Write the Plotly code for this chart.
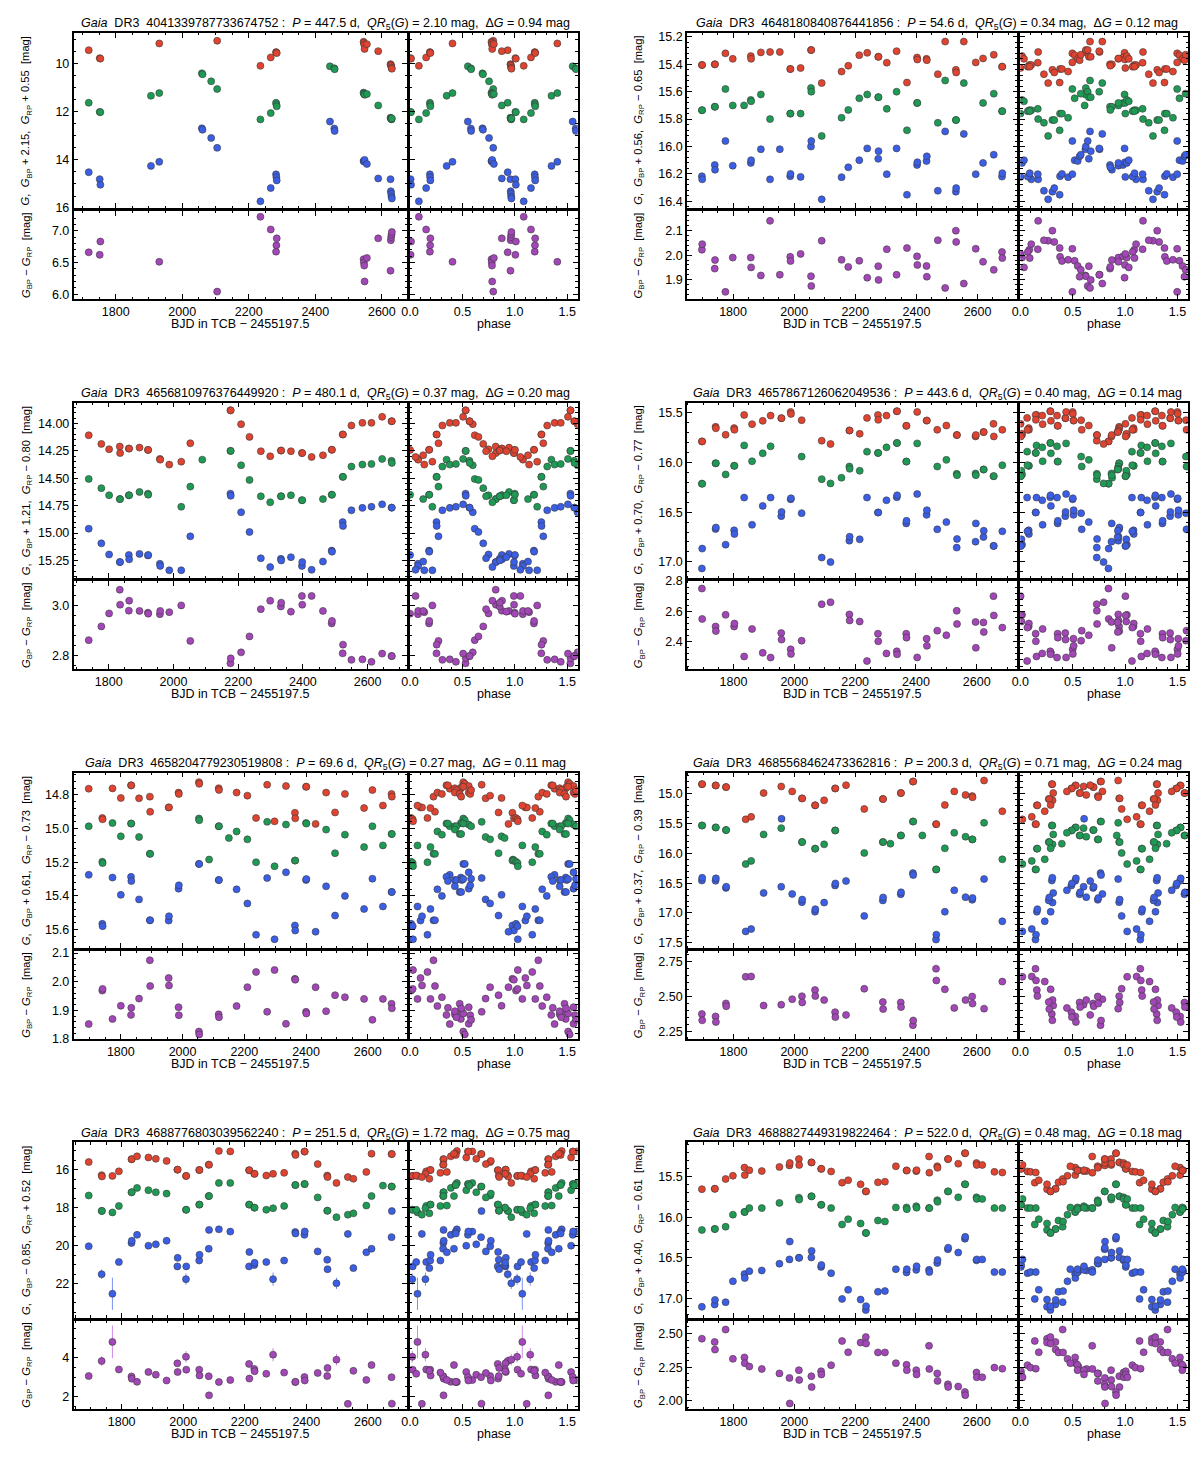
import numpy as np
import plotly.graph_objects as go

FONT = "Liberation Sans"
RED, GREEN, BLUE, PURPLE = "#e0432f", "#1f9a55", "#3b5ee6", "#a246b8"
BLUE_ERR, PURPLE_ERR = "#7d93f2", "#d48ae6"

# ---- star 1 : Gaia DR3 4041339787733674752 (mags as plotted, shifted) ----
t1 = [1719, 1752, 1754, 1906, 1931, 2059, 2061, 2087, 2105, 2235, 2266, 2282, 2283, 2284,
      2444, 2457, 2458, 2545, 2546, 2547, 2548, 2555, 2589, 2626, 2627, 2628, 2629, 2630]
rp1 = [9.45, 9.78, 9.80, None, 9.17, None, None, None, 9.06, 10.10, 9.75, 9.53, 9.55, 9.57,
       None, None, None, 9.10, 9.15, 9.22, 9.40, 9.20, 9.49, 10.03, 10.05, 10.10, 10.18, 10.22]
g1 = [11.63, 12.01, 12.02, 11.34, 11.23, 10.41, 10.45, 10.74, 11.06, 12.32, 12.06, 11.63, 11.70, 11.78,
      10.12, 10.20, 10.24, 11.21, 11.25, 11.27, 11.30, 11.27, 11.74, 12.25, 12.27, 12.30, 12.32, 12.28]
bp1 = [14.51, 14.80, 15.03, 14.25, 14.08, 12.69, 12.75, 13.09, 13.50, 15.72, 15.17, 14.60, 14.72, 14.85,
       12.41, 12.70, 12.80, 14.05, 14.05, 14.07, 14.00, 14.17, 14.77, 14.80, 15.30, 15.40, 15.52, 15.60]

# ---- star 2 : Gaia DR3 4648180840876441856 ----
t2 = [1698, 1699, 1740, 1741, 1775, 1799, 1836, 1858, 1859, 1891, 1921, 1953, 1987, 1988, 2021,
      2055, 2056, 2090, 2155, 2177, 2213, 2239, 2275, 2276, 2303, 2335, 2369, 2402, 2403, 2433,
      2434, 2470, 2494, 2529, 2530, 2555, 2594, 2618, 2653, 2680, 2681]
rp2 = [15.405, 15.405, 15.40, 15.40, 15.32, 15.36, None, 15.34, 15.36, 15.313, 15.31, 15.31, 15.434,
       15.434, 15.427, 15.296, 15.296, 15.537, 15.453, 15.41, 15.333, 15.316, 15.345, 15.345, 15.388,
       15.304, 15.533, 15.35, 15.365, 15.36, 15.37, 15.472, 15.234, 15.44, 15.46, 15.234, 15.386,
       15.357, 15.33, 15.417, 15.417]
g2 = [15.735, 15.735, 15.71, 15.71, 15.58, 15.70, 15.70, 15.66, 15.67, 15.62, 15.80, None, 15.76,
      15.76, 15.76, 15.573, 15.60, 15.923, 15.79, 15.733, 15.648, 15.62, 15.64, 15.64, 15.725, 15.60,
      15.882, 15.682, 15.682, None, None, 15.827, 15.518, 15.807, 15.807, 15.537, None, 15.682,
      15.614, 15.742, 15.742]
bp2 = [16.217, 16.24, 16.135, 16.17, 15.96, 16.14, None, 16.12, 16.10, 16.02, 16.24, 16.02, 16.217,
       16.20, 16.222, 16.0, 15.96, 16.386, 16.224, 16.152, 16.10, 16.014, 16.09, 16.034, 16.202,
       16.014, 16.352, 16.135, 16.115, 16.106, 16.072, 16.323, 15.89, 16.33, 16.304, 15.908, 16.202,
       16.12, 16.06, 16.22, 16.195]

# ---- star 3 : Gaia DR3 4656810976376449920 ----
t3 = [1738, 1777, 1801, 1834, 1835, 1862, 1863, 1895, 1921, 1922, 1958, 1959, 1987, 2024, 2052,
      2089, 2176, 2177, 2209, 2235, 2270, 2299, 2332, 2333, 2363, 2397, 2398, 2427, 2462, 2489,
      2490, 2523, 2524, 2550, 2584, 2612, 2645, 2674, 2675]
rp3 = [14.107, 14.186, 14.235, 14.21, 14.27, 14.229, 14.229, 14.22, 14.241, 14.241, 14.323, 14.33,
       14.375, 14.348, 14.18, None, 13.88, 13.88, 14.006, 14.122, 14.253, 14.299, 14.247, 14.247,
       14.253, 14.27, 14.27, 14.305, 14.29, 14.24, 14.24, 14.10, 14.10, 14.018, 13.994, 13.994,
       13.939, 13.979, 13.979]
g3 = [14.506, 14.59, 14.655, 14.69, 14.69, 14.655, 14.655, 14.625, 14.64, 14.65, None, None, None,
      14.76, 14.576, 14.33, 14.25, 14.25, 14.381, 14.515, 14.664, 14.719, 14.664, 14.664, 14.655,
      14.70, 14.70, None, 14.69, 14.65, 14.65, 14.487, 14.487, 14.393, 14.375, 14.369, 14.323,
      14.34, 14.36]
bp3 = [14.96, 15.094, 15.195, 15.265, 15.265, 15.20, 15.24, 15.19, 15.204, 15.20, 15.28, 15.30,
       15.34, 15.34, 15.03, None, 14.64, 14.66, 14.81, 14.99, 15.23, 15.31, 15.235, 15.25, 15.22,
       15.30, 15.265, 15.335, 15.26, 15.16, 15.17, 14.90, 14.935, 14.792, 14.77, 14.76, 14.738,
       14.768, 14.768]

# ---- star 4 : Gaia DR3 4657867126062049536 ----
t4 = [1696, 1697, 1741, 1742, 1774, 1802, 1803, 1835, 1861, 1896, 1922, 1957, 1958, 1988, 1989,
      2024, 2090, 2119, 2155, 2181, 2182, 2215, 2239, 2275, 2276, 2303, 2337, 2338, 2368, 2369,
      2404, 2435, 2436, 2470, 2500, 2534, 2535, 2596, 2597, 2622, 2623, 2655, 2656, 2684]
rp4 = [15.787, 15.787, 15.64, 15.655, 15.72, 15.653, 15.67, 15.52, 15.613, 15.58, 15.527, 15.553,
       15.553, 15.49, 15.51, 15.573, 15.78, 15.813, None, 15.677, 15.677, 15.71, 15.55, 15.52, 15.57,
       15.527, 15.483, 15.483, 15.63, 15.63, 15.49, 15.577, 15.577, 15.67, 15.627, 15.723, 15.723,
       15.737, 15.723, 15.693, 15.693, 15.61, 15.737, 15.67]
g4 = [16.213, 16.213, 16.007, 16.007, 16.12, 16.033, 16.033, 15.827, 15.987, 15.907, 15.837, None,
      None, None, None, 15.94, 16.167, 16.21, 16.153, 16.04, 16.063, 16.083, 15.89, 15.903, 15.903,
      15.847, 15.803, 15.803, 15.99, 15.99, 15.807, None, None, 16.04, 15.973, 16.113, 16.127,
      16.11, 16.127, 16.07, 16.07, 16.137, 16.137, 16.027]
bp4 = [17.067, 16.867, 16.67, 16.655, 16.827, 16.683, 16.72, 16.353, 16.627, 16.437, 16.353, 16.54,
       16.497, 16.37, 16.36, 16.51, 16.957, 17.003, None, 16.787, 16.747, 16.773, 16.353, 16.503,
       16.503, 16.38, 16.35, 16.33, 16.613, 16.587, 16.317, 16.527, 16.48, 16.673, 16.60, 16.857,
       16.77, 16.797, 16.613, 16.75, 16.687, 16.84, 16.84, 16.693]

# ---- star 5 : Gaia DR3 4658204779230519808 ----
t5 = [1696, 1740, 1741, 1773, 1800, 1833, 1834, 1859, 1894, 1895, 1955, 1956, 1987, 1988, 2053,
      2054, 2086, 2117, 2118, 2150, 2175, 2210, 2238, 2274, 2298, 2335, 2364, 2365, 2400, 2401,
      2431, 2465, 2494, 2526, 2588, 2615, 2649, 2677, 2678]
rp5 = [14.763, 14.937, 14.945, 14.761, 14.818, 14.743, 14.743, 14.82, 14.81, 14.90, 14.874, 14.874,
       14.786, 14.794, 14.724, 14.734, None, 14.76, 14.77, None, 14.786, 14.804, 14.937, 14.739,
       14.957, 14.747, 14.906, 14.939, 14.751, 14.751, 14.972, 14.786, 14.904, 14.794, 14.878,
       14.771, 14.863, 14.794, 14.81]
g5 = [14.986, 15.197, 15.205, 14.967, 15.046, 14.97, 14.97, 15.05, 15.15, 15.15, None, None, None,
      None, 14.94, 14.95, 15.184, 14.986, 14.986, 15.056, 15.017, 15.064, 15.20, 14.96, 15.224,
      14.976, 15.19, 15.19, 14.967, 14.97, None, 15.006, 15.146, 15.036, 15.11, 14.986, 15.10,
      15.032, 15.032]
bp5 = [15.275, 15.566, 15.58, 15.291, 15.394, 15.287, 15.312, 15.421, 15.545, 15.545, 15.547, 15.521,
       15.357, 15.337, 15.21, 15.21, None, 15.306, 15.306, None, 15.361, 15.445, 15.631, 15.294,
       15.658, 15.26, 15.576, 15.606, 15.306, 15.30, 15.613, 15.343, 15.517, 15.40, 15.478, 15.298,
       15.463, 15.377, 15.377]

# ---- star 6 : Gaia DR3 4685568462473362816 ----
t6 = [1696, 1697, 1741, 1742, 1775, 1776, 1840, 1858, 1899, 1957, 1958, 1993, 2025, 2026, 2068,
      2069, 2098, 2134, 2135, 2170, 2230, 2291, 2292, 2316, 2350, 2351, 2390, 2391, 2421, 2466,
      2467, 2495, 2526, 2563, 2585, 2586, 2624, 2684]
rp6 = [14.839, 14.839, 14.861, 14.861, 14.889, 14.889, 15.43, 15.388, 14.989, 14.878, None, 14.961,
       15.078, 15.078, 15.194, 15.194, 15.111, 14.911, 14.911, 14.856, 15.255, 15.089, 15.089, None,
       14.989, 14.989, 14.795, 14.795, None, 15.51, 15.51, 15.189, 14.961, 15.02, 15.04, 15.06,
       14.778, 15.294]
g6 = [15.533, 15.533, 15.566, 15.566, 15.61, 15.61, 16.18, 16.127, 15.683, 15.577, None, None,
      15.811, 15.811, 15.921, 15.921, 15.849, 15.616, 15.616, None, 15.994, 15.811, 15.811, 15.838,
      15.70, 15.70, 15.466, 15.466, 15.70, 16.27, 16.27, 15.916, 15.655, 15.721, 15.766, 15.766,
      15.488, 16.10]
bp6 = [16.455, 16.41, 16.46, 16.42, 16.58, 16.56, 17.31, 17.27, 16.665, 16.56, 15.42, 16.682, 16.82,
       16.776, 16.98, 16.937, 16.826, 16.54, 16.505, 16.465, 17.05, 16.79, 16.74, None, 16.687,
       16.654, 16.332, 16.365, None, 17.447, 17.364, 16.98, 16.62, 16.735, 16.78, 16.75, 16.432, 17.14]

# ---- star 7 : Gaia DR3 4688776803039562240 ----
t7 = [1693, 1735, 1736, 1770, 1791, 1832, 1833, 1850, 1887, 1911, 1946, 1981, 1982, 2009, 2010,
      2052, 2053, 2083, 2084, 2116, 2153, 2214, 2215, 2231, 2232, 2270, 2292, 2328, 2364, 2365,
      2394, 2395, 2437, 2468, 2469, 2498, 2535, 2553, 2595, 2612, 2649, 2677, 2678]
rp7 = [15.60, 16.29, 16.36, 16.33, 16.09, 15.45, 15.45, 15.30, 15.36, 15.43, 15.54, 16.0, 16.0,
       16.33, 16.33, 16.02, 16.02, 15.74, 15.74, 15.02, 15.04, 16.03, 16.03, 16.22, 16.22, 16.31,
       16.22, 16.17, 15.16, 15.23, 15.05, 15.05, 15.71, 16.31, 16.39, 16.70, 16.39, 16.48, 16.12,
       15.16, None, 15.18, 15.18]
g7 = [17.36, 18.17, 18.17, 18.25, 17.91, 17.19, 17.19, 16.96, 17.08, 17.19, 17.26, None, None,
      18.11, 18.11, 17.84, 17.84, 17.39, 17.39, 16.70, 16.70, 17.84, 17.84, 18.0, 18.0, 18.11, 18.03,
      17.91, 16.81, 16.81, 16.76, 16.76, 17.46, 18.16, 18.16, 18.5, 18.37, 18.30, 17.89, 17.39,
      16.84, 16.89, 16.89]
bp7 = [20.03, 21.5, None, 22.53, 20.86, 19.86, 19.74, 19.43, 20.0, 19.93, 19.74, 21.09, 20.64, 21.76,
       21.09, 20.78, 20.48, 20.16, 19.17, 19.14, 19.26, 21.09, 20.33, 21.02, 20.9, 20.86, 21.76,
       20.78, 19.28, 19.36, 19.43, 19.25, 20.3, 20.74, 21.24, 21.98, 19.38, 21.18, 20.35, 20.16,
       None, 19.55, 18.18]
bp7_err = [0.06, 0.25, 0.05, 0.85, 0.08, 0.06, 0.06, 0.05, 0.06, 0.06, 0.05, 0.1, 0.08, 0.3, 0.1,
           0.08, 0.07, 0.06, 0.05, 0.05, 0.05, 0.1, 0.07, 0.1, 0.09, 0.08, 0.35, 0.08, 0.05, 0.05,
           0.05, 0.05, 0.07, 0.08, 0.12, 0.3, 0.05, 0.1, 0.07, 0.06, 0.05, 0.06, 0.05]

# ---- star 8 : Gaia DR3 4688827449319822464 ----
t8 = [1696, 1738, 1739, 1774, 1798, 1836, 1837, 1852, 1893, 1951, 1984, 1985, 2015, 2016, 2056,
      2057, 2088, 2089, 2121, 2157, 2177, 2218, 2235, 2236, 2275, 2298, 2334, 2369, 2370, 2401,
      2402, 2443, 2444, 2470, 2471, 2505, 2506, 2539, 2561, 2562, 2599, 2600, 2618, 2658, 2684]
rp8 = [15.653, 15.649, 15.649, 15.528, 15.488, 15.387, 15.48, 15.42, 15.43, 15.379, 15.36, 15.33,
       15.282, 15.355, 15.323, 15.323, 15.403, 15.403, 15.435, 15.573, 15.544, 15.593, 15.681,
       15.681, 15.569, 15.561, 15.371, 15.423, 15.423, 15.431, 15.419, 15.25, 15.45, 15.371, 15.39,
       15.282, 15.282, 15.339, 15.21, 15.21, 15.331, 15.355, 15.355, 15.44, 15.448]
g8 = [16.157, 16.145, 16.145, 16.117, 15.968, 15.935, 15.935, 15.887, 15.887, 15.823, None, None,
      15.758, 15.782, 15.742, 15.742, 15.847, 15.847, 15.887, 16.089, 16.024, 16.077, 16.194, 16.194,
      16.04, 16.052, 15.879, 15.879, 15.90, 15.863, 15.883, 15.887, 15.887, 15.79, 15.81, 15.681,
      15.681, 15.754, 15.593, 15.593, 15.754, 15.774, 15.774, 15.887, 15.887]
bp8 = [17.105, 17.077, 17.02, 17.048, 16.79, 16.70, 16.75, 16.665, 16.657, 16.573, 16.52, 16.30,
       16.50, 16.50, 16.496, 16.415, 16.613, 16.589, 16.69, 17.008, 16.895, 17.016, 17.145, 17.097,
       16.919, 16.911, 16.641, 16.681, 16.641, 16.649, 16.605, 16.649, 16.677, 16.565, 16.528,
       16.395, 16.375, 16.435, 16.266, 16.242, 16.532, 16.52, 16.52, 16.677, 16.677]

source_ids = ["4041339787733674752", "4648180840876441856", "4656810976376449920",
              "4657867126062049536", "4658204779230519808", "4685568462473362816",
              "4688776803039562240", "4688827449319822464"]
periods = [447.5, 54.6, 480.1, 443.6, 69.6, 200.3, 251.5, 522.0]
epochs = [2197.0, 1911.7, 1921.5, 1323.0, 1878.4, 2437.0, 1752.0, 1563.0]
qr5 = [2.10, 0.34, 0.37, 0.40, 0.27, 0.71, 1.72, 0.48]
delta_g = [0.94, 0.12, 0.20, 0.14, 0.11, 0.24, 0.75, 0.18]
off_bp = [2.15, 0.56, 1.21, 0.70, 0.61, 0.37, -0.85, 0.40]
off_rp = [0.55, -0.65, -0.80, -0.77, -0.73, -0.39, 0.52, -0.61]
col_err = [0.01, 0.008, 0.006, 0.018, 0.007, 0.02, None, 0.008]
bp_err_const = [0.02, 0.006, 0.005, 0.01, 0.005, 0.012, None, 0.008]

# axis limits (mag axes inverted)
top_lim = [(16.0, 8.73), (16.45, 15.17), (15.41, 13.81), (17.163, 15.397),
           (15.709, 14.667), (17.586, 14.645), (23.79, 14.57), (17.24, 15.077)]
bot_lim = [(5.92, 7.31), (1.82, 2.18), (2.747, 3.10), (2.22, 2.80),
           (1.80, 2.108), (2.199, 2.824), (1.36, 5.93), (1.94, 2.596)]
phase_lim = (0.0, 1.6)

# tick steps / formats (top mags, bottom colour)
top_dtick = [2, 0.2, 0.25, 0.5, 0.2, 0.5, 2, 0.5]
top_fmt = ["d", ".1f", ".2f", ".1f", ".1f", ".1f", "d", ".1f"]
bot_dtick = [0.5, 0.1, 0.2, 0.2, 0.1, 0.25, 2, 0.25]
bot_fmt = [".1f", ".1f", ".1f", ".1f", ".1f", ".2f", "d", ".2f"]

times = [t1, t2, t3, t4, t5, t6, t7, t8]
rps = [rp1, rp2, rp3, rp4, rp5, rp6, rp7, rp8]
gs = [g1, g2, g3, g4, g5, g6, g7, g8]
bps = [bp1, bp2, bp3, bp4, bp5, bp6, bp7, bp8]

# page is 1200x1459 with the default 8px body margin around the figure
OFF = 8
W, H = 1200 - 2 * OFF, 1459 - 2 * OFF
fig = go.Figure()
layout = dict(width=W, height=H, margin=dict(l=0, r=0, t=0, b=0),
              paper_bgcolor="white", plot_bgcolor="white", showlegend=False,
              font=dict(family=FONT, color="black"))
annotations = []


def px(x):
    return (x - OFF) / W


def py(y):
    return 1 - (y - OFF) / H


def sign(v):
    return ("+ %.2f" % v) if v >= 0 else ("\u2212 %.2f" % abs(v))


def pad(lo, hi, f=0.05):
    s = hi - lo
    return lo - f * s, hi + f * s


def minor_of(d):
    return d / 4 if d in (2, 200) else d / 5


def axis_style(dtick, fmt, rng, labels=True):
    return dict(range=list(rng), dtick=dtick, tickformat=fmt, showticklabels=labels,
                showline=True, linecolor="black", linewidth=1.5, mirror="allticks",
                ticks="inside", ticklen=5, tickwidth=1, tickcolor="black",
                showgrid=False, zeroline=False,
                tickfont=dict(family=FONT, size=12.5, color="black"),
                minor=dict(dtick=minor_of(dtick), ticks="inside", ticklen=2.5,
                           tickwidth=0.8, tickcolor="black"))


def fold(t, vals, t0, P):
    ph = np.mod((t - t0) / P, 1.0)
    m = ph < 0.6
    return np.concatenate([ph, ph[m] + 1]), [np.concatenate([v, v[m]]) for v in vals]


for p in range(8):
    col, row = p % 2, p // 2
    t = np.array(times[p], dtype=float)
    rp = np.array(rps[p], dtype=float)
    g = np.array(gs[p], dtype=float)
    bp = np.array(bps[p], dtype=float)
    if p == 6:
        e_bp = np.array(bp7_err, dtype=float)
        e_col = e_bp.copy()
    else:
        e_bp = np.full(len(t), bp_err_const[p])
        e_col = np.full(len(t), col_err[p])
    colour = bp - rp + (off_bp[p] - off_rp[p])

    # panel geometry in page pixels
    xt0, xt1 = (65, 401) if col == 0 else (683, 1016)
    xp0, xp1 = (404, 573) if col == 0 else (1019, 1188)
    ytop = 26 + 373.5 * row
    ymid1, ymid2 = ytop + 177, ytop + 180
    ybot = ytop + 269

    ids = [4 * p + k for k in range(1, 5)]
    names = ["" if i == 1 else str(i) for i in ids]
    trng = pad(np.nanmin(t), np.nanmax(t))

    spec = [
        ((xt0, xt1), (ytop, ymid1), 200, "d", trng, False, top_dtick[p], top_fmt[p], top_lim[p], True),
        ((xp0, xp1), (ytop, ymid1), 0.5, ".1f", phase_lim, False, top_dtick[p], top_fmt[p], top_lim[p], False),
        ((xt0, xt1), (ymid2, ybot), 200, "d", trng, True, bot_dtick[p], bot_fmt[p], bot_lim[p], True),
        ((xp0, xp1), (ymid2, ybot), 0.5, ".1f", phase_lim, True, bot_dtick[p], bot_fmt[p], bot_lim[p], False),
    ]
    for n, (xd, yd, xdt, xf, xr, xl, ydt, yf, yrng, yl) in zip(names, spec):
        xa = axis_style(xdt, xf, xr, xl)
        xa.update(domain=[px(xd[0]), px(xd[1])], anchor="y" + n)
        ya = axis_style(ydt, yf, yrng, yl)
        ya.update(domain=[py(yd[1]), py(yd[0])], anchor="x" + n)
        layout["xaxis" + n] = xa
        layout["yaxis" + n] = ya

    mk = lambda c: dict(size=7, color=c, line=dict(width=0.6, color="#3a3a3a"))

    # time series, top
    for vals, c in ((rp, RED), (g, GREEN), (bp, BLUE)):
        err = dict(type="data", array=e_bp, visible=True, thickness=1, width=0,
                   color=BLUE_ERR) if c == BLUE else None
        fig.add_trace(go.Scatter(x=t, y=vals, mode="markers", marker=mk(c), error_y=err,
                                 xaxis="x" + names[0], yaxis="y" + names[0], hoverinfo="skip"))
    # phase, top
    ph, (prp, pg, pbp, pe) = fold(t, [rp, g, bp, e_bp], epochs[p], periods[p])
    for vals, c in ((prp, RED), (pg, GREEN), (pbp, BLUE)):
        err = dict(type="data", array=pe, visible=True, thickness=1, width=0,
                   color=BLUE_ERR) if c == BLUE else None
        fig.add_trace(go.Scatter(x=ph, y=vals, mode="markers", marker=mk(c), error_y=err,
                                 xaxis="x" + names[1], yaxis="y" + names[1], hoverinfo="skip"))
    # colour curves
    fig.add_trace(go.Scatter(x=t, y=colour, mode="markers", marker=mk(PURPLE),
                             error_y=dict(type="data", array=e_col, visible=True, thickness=1,
                                          width=0, color=PURPLE_ERR),
                             xaxis="x" + names[2], yaxis="y" + names[2], hoverinfo="skip"))
    ph2, (pc, pce) = fold(t, [colour, e_col], epochs[p], periods[p])
    fig.add_trace(go.Scatter(x=ph2, y=pc, mode="markers", marker=mk(PURPLE),
                             error_y=dict(type="data", array=pce, visible=True, thickness=1,
                                          width=0, color=PURPLE_ERR),
                             xaxis="x" + names[3], yaxis="y" + names[3], hoverinfo="skip"))

    # texts
    title = ("<i>Gaia</i>  DR3  %s :  <i>P</i> = %.1f d,  <i>QR</i><sub>5</sub>(<i>G</i>) = %.2f mag,"
             "  \u0394<i>G</i> = %.2f mag" % (source_ids[p], periods[p], qr5[p], delta_g[p]))
    annotations.append(dict(text=title, x=px((xt0 + xp1) / 2), y=py(ytop - 9),
                            xref="paper", yref="paper", showarrow=False,
                            font=dict(size=12.5, family=FONT), xanchor="center", yanchor="middle"))
    annotations.append(dict(text="BJD in TCB \u2212 2455197.5", x=px((xt0 + xt1) / 2),
                            y=py(ybot + 25), xref="paper", yref="paper", showarrow=False,
                            font=dict(size=12.5, family=FONT), xanchor="center", yanchor="middle"))
    annotations.append(dict(text="phase", x=px((xp0 + xp1) / 2), y=py(ybot + 25),
                            xref="paper", yref="paper", showarrow=False,
                            font=dict(size=12.5, family=FONT), xanchor="center", yanchor="middle"))
    ytx = 18 if col == 0 else 635
    ylab_top = ("<i>G</i>,  <i>G</i><sub>BP</sub> %s,  <i>G</i><sub>RP</sub> %s  [mag]"
                % (sign(off_bp[p]), sign(off_rp[p])))
    annotations.append(dict(text=ylab_top, x=px(ytx), y=py((ytop + ymid1) / 2),
                            xref="paper", yref="paper", showarrow=False, textangle=-90,
                            font=dict(size=11.2, family=FONT), xanchor="center", yanchor="middle"))
    annotations.append(dict(text="<i>G</i><sub>BP</sub> \u2212 <i>G</i><sub>RP</sub>  [mag]",
                            x=px(ytx), y=py((ymid2 + ybot) / 2),
                            xref="paper", yref="paper", showarrow=False, textangle=-90,
                            font=dict(size=11.2, family=FONT), xanchor="center", yanchor="middle"))

layout["annotations"] = annotations
fig.update_layout(**layout)
fig.write_html("out.html")
